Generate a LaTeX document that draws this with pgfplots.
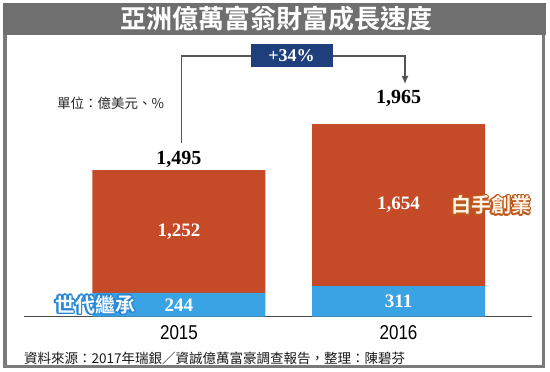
\documentclass[border=0pt]{standalone}
\usepackage{fontspec}
\setmainfont{Liberation Serif}
\newfontfamily\cjk{Noto Sans CJK TC}
\newfontfamily\cjkb{Noto Sans CJK TC Bold}
\newfontfamily\arial{Liberation Sans}
\usepackage{graphicx}
\usepackage{pgfplots}
\pgfplotsset{compat=1.18}
\usetikzlibrary{calc,arrows.meta}
\definecolor{cred}{HTML}{C54A27}
\definecolor{cblue}{HTML}{3AA3E4}
\definecolor{titlegray}{HTML}{6F6F6F}
\definecolor{bordergray}{HTML}{7A7A7A}
\definecolor{navy}{HTML}{1E3F7C}
\definecolor{linegray}{HTML}{555555}
\definecolor{axisgray}{HTML}{4A4A4A}
\definecolor{orangeout}{HTML}{BE5A1E}
\definecolor{orangefill}{HTML}{FFF4E8}
\definecolor{blueout}{HTML}{2A86D2}
\definecolor{bluefill}{HTML}{F2F9FF}
\newcommand{\halotext}[5]{%
  \foreach \a in {0,30,...,330}{\node[text=#2,font=#4,inner sep=0pt] at ($(#1)+(\a:1.4bp)$) {#5};}
  \node[text=#3,font=#4,inner sep=0pt] at (#1) {#5};}
\begin{document}
\begin{tikzpicture}
\useasboundingbox (0,0) rectangle (550bp,372bp);
\fill[white] (0,0) rectangle (550bp,372bp);
\draw[bordergray, line width=3.5bp] (5bp,5.5bp) rectangle (543.5bp,367bp);
\fill[titlegray] (3bp,337bp) rectangle (546bp,369bp);
\node[text=white, font=\cjkb\fontsize{26bp}{26bp}\selectfont, inner sep=0pt] at (276.5bp,353.5bp) {亞洲億萬富翁財富成長速度};
\begin{axis}[
  at={(24bp,55.3bp)}, anchor=south west,
  scale only axis, width=508bp, height=264.6bp,
  xmin=-0.706, xmax=1.608, ymin=0, ymax=2700,
  axis x line=bottom, axis y line=none,
  axis line style={draw=axisgray, line width=1bp, -},
  xtick={0,1}, xticklabels={\scalebox{0.85}[1]{2015},\scalebox{0.85}[1]{2016}},
  major tick length=0pt, xtick style={draw=none},
  xticklabel style={font=\arial\fontsize{20bp}{20bp}\selectfont, inner sep=0pt, anchor=north, yshift=-9bp, text=black},
  ybar stacked, bar width=0.788,
  clip=false,
]
\addplot[fill=cblue, draw=none] coordinates {(0,244) (1,311)};
\addplot[fill=cred, draw=none] coordinates {(0,1252) (1,1654)};
\coordinate (t1495) at (axis cs:0,1495);
\coordinate (t1965) at (axis cs:1,1965);
\coordinate (c1252) at (axis cs:0,870);
\coordinate (c1654) at (axis cs:1,1138);
\coordinate (c244) at (axis cs:0,122);
\coordinate (c311) at (axis cs:1,155.5);
\end{axis}
\node[font=\bfseries\fontsize{20bp}{20bp}\selectfont, anchor=base, inner sep=0pt, yshift=5.5bp] at (t1495) {1,495};
\node[font=\bfseries\fontsize{20bp}{20bp}\selectfont, anchor=base, inner sep=0pt, yshift=20.4bp] at (t1965) {1,965};
\node[font=\bfseries\fontsize{19bp}{19bp}\selectfont, text=white, inner sep=0pt] at (c1252) {1,252};
\node[font=\bfseries\fontsize{19bp}{19bp}\selectfont, text=white, inner sep=0pt] at (c1654) {1,654};
\node[font=\bfseries\fontsize{19bp}{19bp}\selectfont, text=white, inner sep=0pt] at (c244) {244};
\node[font=\bfseries\fontsize{19bp}{19bp}\selectfont, text=white, inner sep=0pt] at (c311) {311};
\draw[linegray, line width=1.3bp, -{Latex[length=8bp,width=7bp]}] (181.7bp,229bp) |- (405bp,316bp) -- (405bp,288bp);
\node[fill=navy, minimum width=82bp, minimum height=23bp, inner sep=0pt, text=white, font=\bfseries\fontsize{18bp}{18bp}\selectfont] at (291.5bp,316.5bp) {+34\%};
\node[anchor=west, inner sep=0pt, text=black!85, font=\cjk\fontsize{13.5bp}{13.5bp}\selectfont] at (57bp,269bp) {單位：億美元、\%};
\node[anchor=west, inner sep=0pt, text=black!90, font=\cjk\fontsize{13.5bp}{13.5bp}\selectfont] at (24bp,13.2bp) {資料來源：2017年瑞銀／資誠億萬富豪調查報告，整理：陳碧芬};
\coordinate (wx) at (491bp,0);
\coordinate (bx) at (95bp,0);
\halotext{c1654 -| wx}{orangeout}{orangefill}{\cjkb\fontsize{20bp}{20bp}\selectfont}{白手創業}
\halotext{c244 -| bx}{blueout}{bluefill}{\cjkb\fontsize{20bp}{20bp}\selectfont}{世代繼承}
\end{tikzpicture}
\end{document}
